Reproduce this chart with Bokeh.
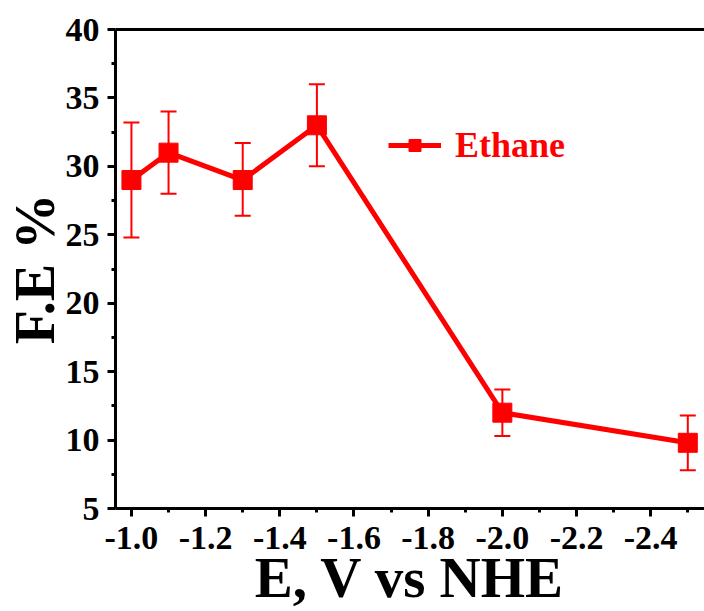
from bokeh.plotting import figure
from bokeh.models import (Range1d, LinearAxis, Whisker, ColumnDataSource, Legend,
                          LegendItem, FixedTicker, NumeralTickFormatter)
from bokeh.embed import file_html
from bokeh.resources import INLINE

potential = [-1.0, -1.1, -1.3, -1.5, -2.0, -2.5]
fe = [29.0, 31.0, 29.0, 33.0, 12.0, 9.8]
fe_low = [24.8, 28.0, 26.4, 30.0, 10.3, 7.8]
fe_high = [33.2, 34.0, 31.7, 36.0, 13.7, 11.8]
x_ticks = [-1.0, -1.2, -1.4, -1.6, -1.8, -2.0, -2.2, -2.4]
x_minor = [-1.1, -1.3, -1.5, -1.7, -1.9, -2.1, -2.3, -2.5]
y_ticks = [5, 10, 15, 20, 25, 30, 35, 40]
y_minor = [7.5, 12.5, 17.5, 22.5, 27.5, 32.5, 37.5]
x_title = "E, V vs NHE"
y_title = "F.E %"
series_name = "Ethane"

RED = "#ff0000"
FONT = "Liberation Serif"

src = ColumnDataSource(dict(x=potential, y=fe, lo=fe_low, hi=fe_high))

p = figure(width=704, height=611, output_backend="svg", toolbar_location=None,
           x_range=Range1d(-0.957, -2.545), y_range=Range1d(5, 40),
           min_border_left=115, min_border_right=0, min_border_top=29,
           min_border_bottom=102)
p.outline_line_color = None
p.xgrid.grid_line_color = None
p.ygrid.grid_line_color = None
p.background_fill_color = "white"

for ax in (p.xaxis[0], p.yaxis[0]):
    ax.axis_line_width = 3
    ax.major_tick_line_width = 3
    ax.minor_tick_line_width = 3
    ax.major_tick_out = 8
    ax.major_tick_in = 0
    ax.minor_tick_out = 4
    ax.minor_tick_in = 0
    ax.major_label_text_font = FONT
    ax.major_label_text_font_style = "bold"
    ax.major_label_text_font_size = "34px"
    ax.major_label_text_color = "black"
    ax.axis_label_text_font = FONT
    ax.axis_label_text_font_style = "bold"
    ax.axis_label_text_font_size = "56px"
    ax.axis_label_text_color = "black"

p.xaxis[0].ticker = FixedTicker(ticks=x_ticks, minor_ticks=x_minor)
p.yaxis[0].ticker = FixedTicker(ticks=y_ticks, minor_ticks=y_minor)
p.xaxis[0].formatter = NumeralTickFormatter(format="0.0")
p.xaxis[0].axis_label = x_title
p.xaxis[0].axis_label_text_font_size = "57px"
p.xaxis[0].axis_label_text_line_height = 0.7
p.yaxis[0].axis_label = y_title
p.xaxis[0].major_label_standoff = 10
p.yaxis[0].major_label_standoff = 8
p.xaxis[0].axis_label_standoff = -6
p.yaxis[0].axis_label_standoff = -3

top = LinearAxis(axis_line_width=3, major_tick_line_color=None, minor_tick_line_color=None,
                 major_label_text_font_size="0px", major_label_standoff=0)
top.ticker = FixedTicker(ticks=[])
p.add_layout(top, "above")

line = p.line("x", "y", source=src, line_color=RED, line_width=5)
marker = p.scatter("x", "y", source=src, marker="square", size=19, fill_color=RED,
                   line_color=RED)
w = Whisker(source=src, base="x", lower="lo", upper="hi", line_color=RED, line_width=2)
w.upper_head.size = 16
w.lower_head.size = 16
w.upper_head.line_color = RED
w.lower_head.line_color = RED
w.upper_head.line_width = 2
w.lower_head.line_width = 2
p.add_layout(w)

legend = Legend(items=[LegendItem(label=series_name, renderers=[line, marker])],
                location=(273, 342), glyph_width=53, glyph_height=30,
                label_text_font=FONT, label_text_font_style="bold",
                label_text_font_size="36px", label_text_color=RED,
                border_line_color=None, background_fill_alpha=0,
                padding=0, margin=0, label_standoff=14)
p.add_layout(legend)

open("out.html", "w").write(file_html(p, INLINE))
